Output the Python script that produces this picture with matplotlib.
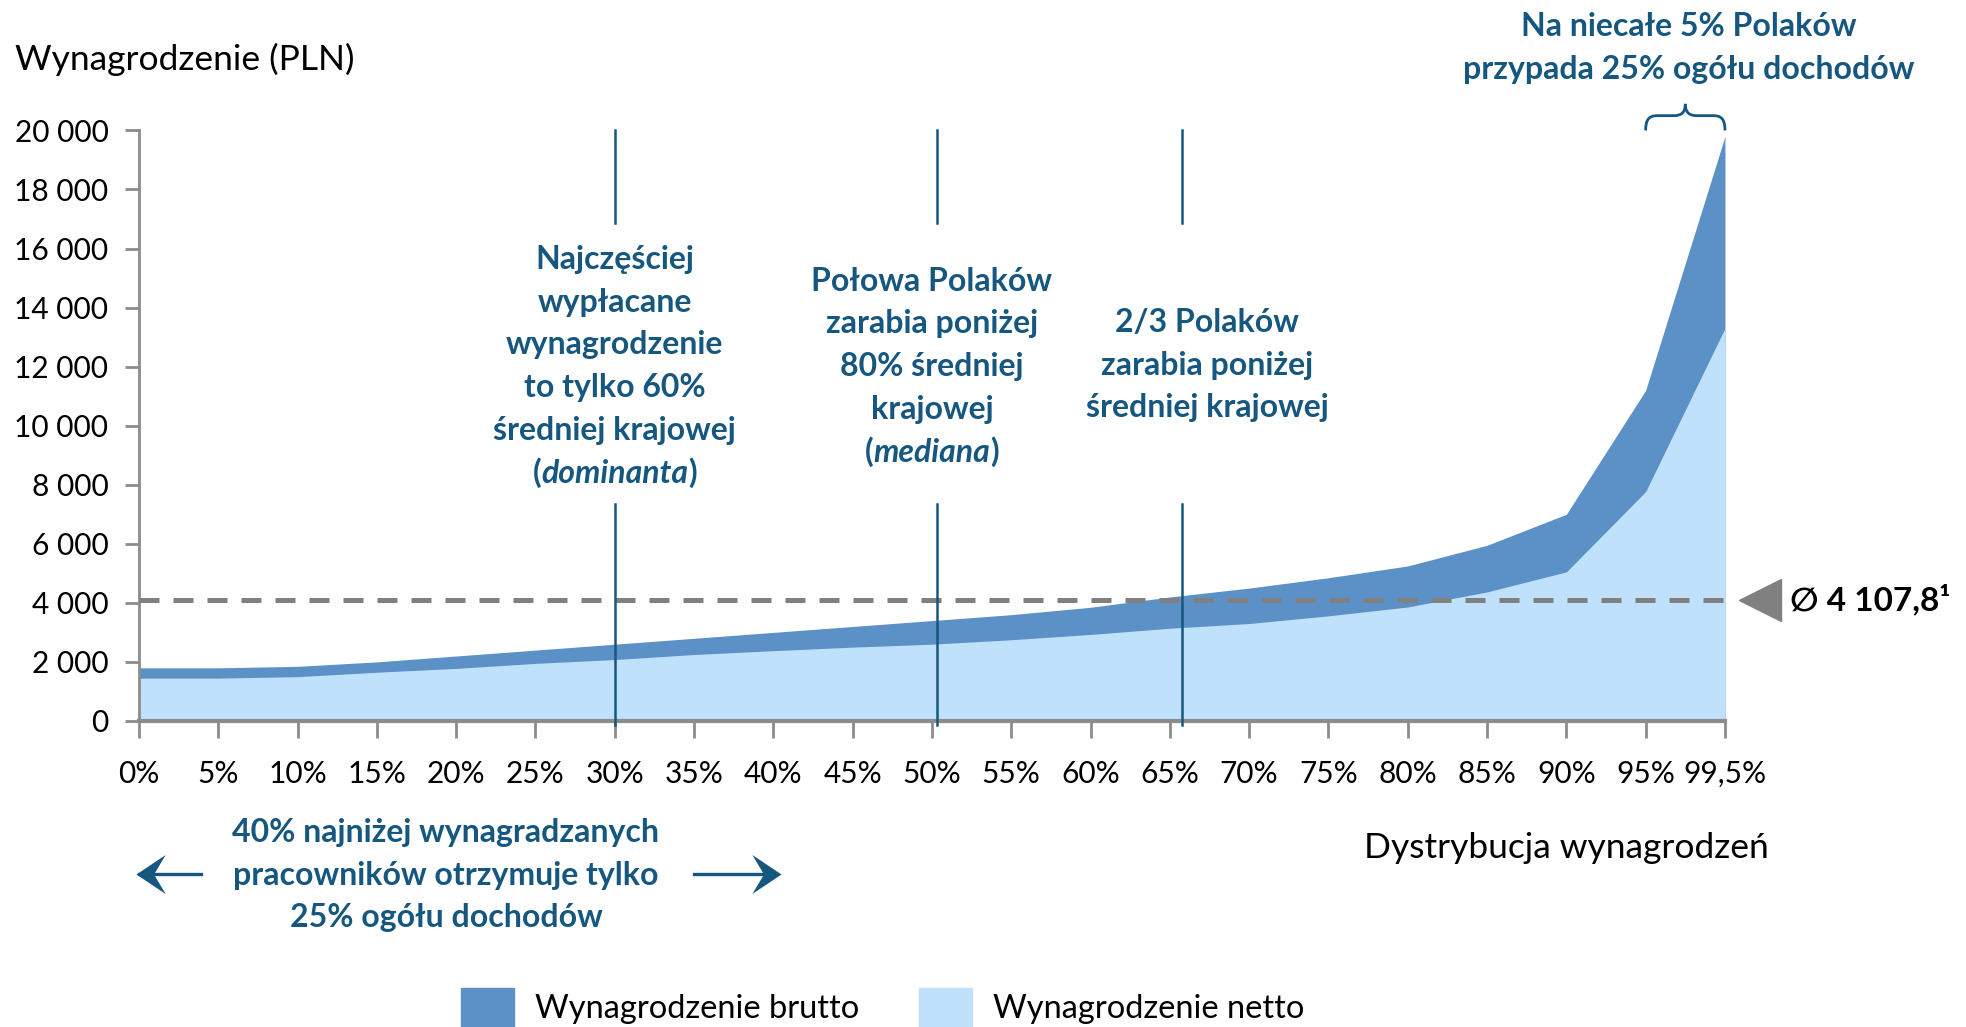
import numpy as np
import matplotlib
matplotlib.use("Agg")
import matplotlib.pyplot as plt
from matplotlib.patches import Rectangle, PathPatch
from matplotlib.path import Path
from matplotlib.offsetbox import TextArea, HPacker, AnnotationBbox

plt.rcParams['font.family'] = ['Lato', 'DejaVu Sans']

# dane
percentyle = ['0%', '5%', '10%', '15%', '20%', '25%', '30%', '35%', '40%', '45%', '50%',
              '55%', '60%', '65%', '70%', '75%', '80%', '85%', '90%', '95%', '99,5%']
brutto = [1800, 1800, 1850, 2000, 2200, 2400, 2600, 2800, 3000, 3200, 3400,
          3600, 3850, 4200, 4500, 4850, 5250, 5950, 7000, 11200, 19800]
netto = [1450, 1450, 1500, 1650, 1780, 1950, 2080, 2250, 2380, 2500, 2600,
         2750, 2930, 3140, 3300, 3560, 3860, 4370, 5050, 7770, 13300]
srednia = 4107.8
y_ticks = [0, 2000, 4000, 6000, 8000, 10000, 12000, 14000, 16000, 18000, 20000]
y_labels = ['0', '2 000', '4 000', '6 000', '8 000', '10 000', '12 000', '14 000',
            '16 000', '18 000', '20 000']
# pozycje pionowych linii (dominanta, mediana, 2/3)
linie_x = [6.0, 10.06, 13.15]

C_BRUTTO = '#5b91c7'
C_NETTO = '#c0e1fc'
C_TXT = '#165780'
C_GRAY = '#808080'
FS = 23

fig = plt.figure(figsize=(19.66, 10.27), dpi=100)
ax = fig.add_axes([0.0707, 0.298, 0.8067, 0.575])

x = np.arange(len(percentyle))
ax.fill_between(x, 0, brutto, color=C_BRUTTO, lw=0)
ax.fill_between(x, 0, netto, color=C_NETTO, lw=0)

ax.set_xlim(0, 20)
ax.set_ylim(0, 20000)
ax.set_xticks(x)
ax.set_xticklabels(percentyle, fontsize=21.5)
ax.set_yticks(y_ticks)
ax.set_yticklabels(y_labels, fontsize=21.5)
ax.tick_params(axis='x', length=12, width=2, color='#8c8c8c', pad=16)
ax.tick_params(axis='y', length=10, width=2, color='#8c8c8c', pad=12)
for s in ['top', 'right']:
    ax.spines[s].set_visible(False)
ax.spines['left'].set_color('#8c8c8c')
ax.spines['left'].set_linewidth(2)
ax.spines['bottom'].set_color('#8c8c8c')
ax.spines['bottom'].set_linewidth(3)

# średnia krajowa
ax.plot([0, 20.0], [srednia, srednia], color=C_GRAY, lw=3.6, dashes=(4, 2.8),
        clip_on=False, zorder=4)
ax.plot([20.44], [srednia], marker='<', color=C_GRAY, markersize=30, clip_on=False)
ax.text(20.82, srednia, '\u2205 4 107,8\u00b9', fontsize=24, fontweight='bold',
        va='center', ha='left', clip_on=False)

# pionowe linie
for lx in linie_x:
    ax.plot([lx, lx], [16860, 20000], color=C_TXT, lw=1.8, clip_on=False, zorder=5)
    ax.plot([lx, lx], [-130, 7350], color=C_TXT, lw=1.8, clip_on=False, zorder=5)


def blok(xc, linie, y_top, dy=1445):
    for i, t in enumerate(linie):
        ax.text(xc, y_top - i * dy, t, ha='center', va='center', fontsize=FS,
                fontweight='bold', color=C_TXT, clip_on=False)


def nawias(xc, y, slowo):
    prop = dict(fontsize=FS, fontweight='bold', color=C_TXT)
    kawalki = [TextArea('(', textprops=prop),
               TextArea(slowo, textprops=dict(prop, style='italic')),
               TextArea(')', textprops=prop)]
    box = HPacker(children=kawalki, pad=0, sep=0, align='baseline')
    ax.add_artist(AnnotationBbox(box, (xc, y), frameon=False, box_alignment=(0.5, 0.5),
                                 annotation_clip=False))


blok(6.0, ['Najczęściej', 'wypłacane', 'wynagrodzenie', 'to tylko 60%',
           'średniej krajowej'], 15630)
nawias(6.0, 15630 - 5 * 1445, 'dominanta')
blok(10.0, ['Połowa Polaków', 'zarabia poniżej', '80% średniej', 'krajowej'], 14900)
nawias(10.0, 14900 - 4 * 1445, 'mediana')
blok(13.47, ['2/3 Polaków', 'zarabia poniżej', 'średniej krajowej'], 13500)
blok(19.54, ['Na niecałe 5% Polaków', 'przypada 25% ogółu dochodów'], 23520)
blok(3.87, ['40% najniżej wynagradzanych', 'pracowników otrzymuje tylko',
            '25% ogółu dochodów'], -3780)

# klamra nad ostatnim przedziałem
for sgn in (1, -1):
    x0 = 19.5 - sgn * 0.5
    verts = [(x0, 20000), (x0, 20400), (x0 + sgn * 0.05, 20500), (x0 + sgn * 0.15, 20500),
             (19.5 - sgn * 0.15, 20500),
             (19.5 - sgn * 0.05, 20500), (19.5, 20600), (19.5, 20900)]
    codes = [Path.MOVETO, Path.CURVE4, Path.CURVE4, Path.CURVE4, Path.LINETO,
             Path.CURVE4, Path.CURVE4, Path.CURVE4]
    ax.add_patch(PathPatch(Path(verts, codes), fill=False, ec=C_TXT, lw=2, clip_on=False))

# strzałki z wklęsłym grotem
grot_l = Path([(0, 0), (1, 0.67), (0.6, 0), (1, -0.67), (0, 0)],
              [Path.MOVETO, Path.LINETO, Path.LINETO, Path.LINETO, Path.CLOSEPOLY])
grot_p = Path([(0, 0), (-1, 0.67), (-0.6, 0), (-1, -0.67), (0, 0)],
              [Path.MOVETO, Path.LINETO, Path.LINETO, Path.LINETO, Path.CLOSEPOLY])
y_arr = -5180
ax.plot([-0.0, 0.78], [y_arr, y_arr], color=C_TXT, lw=2.4, clip_on=False)
ax.plot([-0.04], [y_arr], marker=grot_l, markersize=42, color=C_TXT, mew=0, clip_on=False)
ax.plot([7.0, 8.0], [y_arr, y_arr], color=C_TXT, lw=2.4, clip_on=False)
ax.plot([8.1], [y_arr], marker=grot_p, markersize=42, color=C_TXT, mew=0, clip_on=False)

ax.text(18.0, -4290, 'Dystrybucja wynagrodzeń', ha='center', va='center', fontsize=25.5,
        clip_on=False)
fig.text(15 / 1966, 1 - 59 / 1027, 'Wynagrodzenie (PLN)', ha='left', va='center',
         fontsize=25.5)

# legenda
for x0, kol, opis, tx in [(461, C_BRUTTO, 'Wynagrodzenie brutto', 535),
                          (919, C_NETTO, 'Wynagrodzenie netto', 993)]:
    fig.patches.append(Rectangle((x0 / 1966, 0), 53 / 1966, 39 / 1027, color=kol,
                                 transform=fig.transFigure))
    fig.text(tx / 1966, 18 / 1027, opis, ha='left', va='center', fontsize=23.5)

fig.savefig('out.png', dpi=100)
